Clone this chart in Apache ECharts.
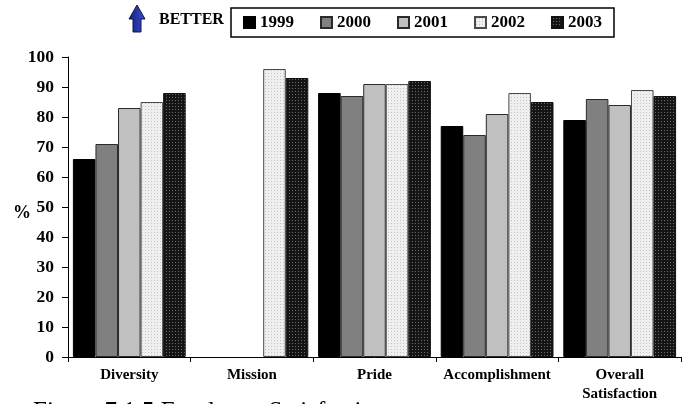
<!DOCTYPE html>
<html>
<head>
<meta charset="utf-8">
<script src="https://cdn.jsdelivr.net/npm/echarts@6/dist/echarts.min.js"></script>
<style>
  html, body { margin: 0; padding: 0; background: #fff; }
  #chart { width: 684px; height: 404px; }
</style>
</head>
<body>
<div id="chart"></div>
<script>
// Survey categories and yearly scores (%)
var categories = ['Diversity', 'Mission', 'Pride', 'Accomplishment', 'Overall\nSatisfaction'];
var years = ['1999', '2000', '2001', '2002', '2003'];
var v1999 = [66, null, 88, 77, 79];
var v2000 = [71, null, 87, 74, 86];
var v2001 = [83, null, 91, 81, 84];
var v2002 = [85, 96, 91, 88, 89];
var v2003 = [88, 93, 92, 85, 87];
var yTicks = { min: 0, max: 100, step: 10 };

var SERIF = '"Liberation Serif", "Times New Roman", serif';

// Small repeating fills for the dotted and checkered bars
function makePattern(size, bg, dot, cells) {
  var c = document.createElement('canvas');
  c.width = size; c.height = size;
  var g = c.getContext('2d');
  g.fillStyle = bg; g.fillRect(0, 0, size, size);
  g.fillStyle = dot;
  cells.forEach(function (p) { g.fillRect(p[0], p[1], 1, 1); });
  return { image: c, repeat: 'repeat' };
}
var dotted = makePattern(3, '#efefef', '#c4c4c4', [[1, 1]]);
var checkered = makePattern(3, '#151515', '#6a6a6a', [[1, 1]]);

var fills = ['#000000', '#808080', '#c0c0c0', dotted, checkered];
var borders = ['#000000', '#2a2a2a', '#2a2a2a', '#4a4a4a', '#111111'];
var values = [v1999, v2000, v2001, v2002, v2003];

var series = years.map(function (y, i) {
  return {
    name: y,
    type: 'bar',
    data: values[i].map(function (v) { return v === null ? '-' : v; }),
    barGap: '0%',
    barCategoryGap: '8%',
    itemStyle: { color: fills[i], borderColor: borders[i], borderWidth: 1 },
    emphasis: { disabled: true },
    animation: false
  };
});

var chart = echarts.init(document.getElementById('chart'), null, { renderer: 'canvas' });
chart.setOption({
  backgroundColor: '#ffffff',
  animation: false,
  grid: { left: 68, right: 3, top: 57, bottom: 46, containLabel: false },
  legend: {
    data: years,
    left: 231,
    top: 8,
    padding: [6, 12, 6, 12],
    itemWidth: 11,
    itemHeight: 11,
    itemGap: 26,
    borderColor: '#000',
    borderWidth: 1.5,
    borderRadius: 0,
    selectedMode: false,
    icon: 'rect',
    textStyle: { fontFamily: SERIF, fontWeight: 'bold', fontSize: 17, color: '#000', padding: [2, 0, 0, 0] }
  },
  xAxis: {
    type: 'category',
    data: categories,
    axisLine: { lineStyle: { color: '#000', width: 1 } },
    axisTick: { show: true, length: 5, lineStyle: { color: '#000' } },
    axisLabel: {
      color: '#000', fontFamily: SERIF, fontWeight: 'bold', fontSize: 15,
      margin: 9, lineHeight: 19, interval: 0
    }
  },
  yAxis: {
    type: 'value',
    min: yTicks.min,
    max: yTicks.max,
    interval: yTicks.step,
    axisLine: { show: true, lineStyle: { color: '#000', width: 1 } },
    axisTick: { show: true, length: 6, lineStyle: { color: '#000' } },
    splitLine: { show: false },
    axisLabel: { color: '#000', fontFamily: SERIF, fontWeight: 'bold', fontSize: 17.5, margin: 14 }
  },
  graphic: [
    {
      type: 'text', left: 13, top: 204,
      style: { text: '%', fontFamily: SERIF, fontWeight: 'bold', fontSize: 18, fill: '#000' }
    },
    {
      type: 'text', left: 159, top: 12,
      style: { text: 'BETTER', fontFamily: SERIF, fontWeight: 'bold', fontSize: 16, fill: '#000' }
    },
    {
      type: 'polygon',
      shape: { points: [[129, 19], [137, 5], [145, 19], [141, 19], [141, 32], [133, 32], [133, 19]] },
      style: {
        fill: new echarts.graphic.LinearGradient(0, 0, 1, 0, [
          { offset: 0, color: '#16227a' },
          { offset: 0.6, color: '#2a3cae' },
          { offset: 1, color: '#3a52c8' }
        ]),
        stroke: '#0d164f', lineWidth: 1
      }
    },
    {
      type: 'text', left: 33, top: 400,
      style: { text: 'Figure 7.1.5 Employee Satisfaction', fontFamily: SERIF, fontSize: 25, fill: '#000' }
    }
  ],
  series: series
});
</script>
</body>
</html>
